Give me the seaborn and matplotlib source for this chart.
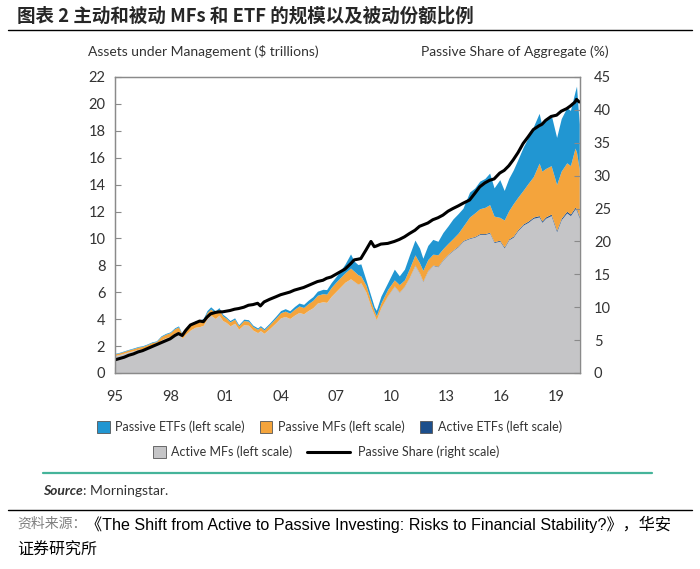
import matplotlib
matplotlib.use("Agg")
import matplotlib.pyplot as plt
import matplotlib.patches as mpatches
from matplotlib.lines import Line2D
import seaborn as sns

# values (decimal years, $ trillions and %)
years = [1995.00, 1995.25, 1995.50, 1995.75, 1996.00, 1996.25, 1996.50, 1996.75,
         1997.00, 1997.25, 1997.50, 1997.75, 1998.00, 1998.25, 1998.45, 1998.65,
         1998.85, 1999.10, 1999.35, 1999.60, 1999.80, 2000.00, 2000.20, 2000.45,
         2000.65, 2000.85, 2001.05, 2001.25, 2001.50, 2001.72, 2002.00, 2002.25,
         2002.50, 2002.75, 2002.90, 2003.10, 2003.40, 2003.75, 2004.00, 2004.25,
         2004.50, 2004.75, 2005.00, 2005.25, 2005.50, 2005.75, 2006.00, 2006.30,
         2006.50, 2006.75, 2007.00, 2007.25, 2007.50, 2007.80, 2008.00, 2008.20,
         2008.36, 2008.64, 2008.91, 2009.09, 2009.20, 2009.45, 2009.82, 2010.18,
         2010.45, 2010.73, 2011.00, 2011.30, 2011.55, 2011.73, 2012.00, 2012.27,
         2012.55, 2012.82, 2013.10, 2013.36, 2013.65, 2013.91, 2014.27, 2014.55,
         2014.82, 2015.10, 2015.36, 2015.60, 2015.91, 2016.15, 2016.40, 2016.64,
         2016.90, 2017.18, 2017.45, 2017.73, 2018.05, 2018.20, 2018.40, 2018.70,
         2019.00, 2019.25, 2019.55, 2019.75, 2020.00, 2020.08, 2020.23]

active_mfs = [1.30, 1.38, 1.48, 1.58, 1.66, 1.76, 1.80, 1.92,
              2.05, 2.12, 2.45, 2.62, 2.72, 2.98, 3.08, 2.58,
              2.90, 3.20, 3.40, 3.45, 3.55, 4.05, 4.30, 4.05,
              4.30, 3.90, 3.75, 3.50, 3.70, 3.25, 3.60, 3.55,
              3.18, 3.00, 3.15, 2.95, 3.30, 3.75, 4.10, 4.20,
              4.05, 4.30, 4.50, 4.40, 4.65, 4.85, 5.20, 5.30,
              5.25, 5.70, 6.05, 6.40, 6.75, 7.00, 6.80, 6.60,
              6.70, 6.00, 4.90, 4.30, 3.95, 4.85, 5.75, 6.45,
              6.00, 6.45, 7.10, 8.00, 7.40, 6.80, 7.60, 8.00,
              7.90, 8.40, 8.80, 9.10, 9.40, 9.80, 10.00, 10.10,
              10.30, 10.30, 10.40, 9.70, 9.80, 9.30, 9.90, 10.10,
              10.60, 11.00, 11.20, 11.50, 11.60, 11.20, 11.50, 11.70,
              10.50, 11.40, 11.90, 11.70, 12.20, 12.10, 11.50]

active_etfs = [0] * 54 + [0.01, 0.01, 0.01, 0.01, 0.01, 0.01, 0.01, 0.01,
                          0.02, 0.02, 0.02, 0.02, 0.02, 0.03, 0.03, 0.03,
                          0.03, 0.03, 0.04, 0.04, 0.04, 0.04, 0.05, 0.05,
                          0.05, 0.05, 0.06, 0.06, 0.06, 0.06, 0.07, 0.07,
                          0.07, 0.08, 0.08, 0.08, 0.09, 0.09, 0.10, 0.10,
                          0.10, 0.11, 0.11, 0.11, 0.12, 0.12, 0.12, 0.12, 0.12]

passive_mfs = [0.12, 0.12, 0.13, 0.14, 0.15, 0.16, 0.18, 0.19,
               0.21, 0.22, 0.25, 0.26, 0.28, 0.32, 0.34, 0.26,
               0.30, 0.35, 0.38, 0.40, 0.41, 0.45, 0.46, 0.43,
               0.42, 0.35, 0.31, 0.30, 0.30, 0.25, 0.30, 0.30,
               0.27, 0.25, 0.27, 0.25, 0.30, 0.35, 0.38, 0.40,
               0.40, 0.44, 0.48, 0.47, 0.51, 0.55, 0.58, 0.60,
               0.61, 0.66, 0.70, 0.70, 0.70, 0.80, 0.75, 0.70,
               0.50, 0.50, 0.40, 0.30, 0.30, 0.35, 0.45, 0.45,
               0.55, 0.45, 0.65, 0.75, 0.75, 0.80, 0.80, 0.80,
               0.85, 0.80, 0.80, 0.85, 0.95, 1.05, 1.55, 1.75,
               1.85, 1.95, 2.05, 1.90, 1.70, 2.00, 2.10, 2.40,
               2.40, 2.50, 2.80, 3.00, 3.90, 3.70, 3.60, 3.60,
               3.40, 3.50, 3.60, 3.60, 4.40, 4.20, 3.50]

passive_etfs = [0.04, 0.04, 0.04, 0.04, 0.05, 0.05, 0.05, 0.05,
                0.05, 0.05, 0.06, 0.06, 0.06, 0.07, 0.08, 0.06,
                0.07, 0.08, 0.08, 0.09, 0.10, 0.14, 0.16, 0.14,
                0.14, 0.12, 0.10, 0.10, 0.10, 0.09, 0.10, 0.11,
                0.10, 0.10, 0.10, 0.10, 0.11, 0.14, 0.16, 0.18,
                0.18, 0.20, 0.22, 0.23, 0.25, 0.27, 0.30, 0.32,
                0.34, 0.36, 0.40, 0.50, 0.65, 1.05, 0.75, 0.75,
                0.90, 0.40, 0.40, 0.30, 0.40, 0.50, 0.50, 0.80,
                0.65, 0.80, 1.00, 1.10, 1.10, 0.90, 1.05, 1.10,
                1.00, 1.20, 1.30, 1.45, 1.45, 1.35, 1.85, 1.85,
                2.05, 2.15, 2.35, 2.10, 2.80, 2.20, 2.40, 2.50,
                2.80, 3.20, 3.40, 3.70, 3.70, 3.40, 3.70, 3.80,
                3.50, 3.90, 4.10, 4.10, 4.20, 4.90, 3.40]

passive_share = [2.0, 2.2, 2.4, 2.7, 2.9, 3.2, 3.4, 3.7,
                 4.0, 4.3, 4.6, 4.9, 5.2, 5.7, 6.0, 5.7,
                 6.5, 7.3, 7.6, 7.9, 7.8, 8.5, 9.0, 9.2,
                 9.3, 9.3, 9.4, 9.5, 9.7, 9.8, 10.0, 10.3,
                 10.4, 10.6, 10.2, 10.8, 11.2, 11.6, 11.9, 12.1,
                 12.3, 12.6, 12.8, 13.0, 13.3, 13.6, 13.9, 14.1,
                 14.4, 14.6, 15.0, 15.4, 15.8, 16.6, 17.2, 17.3,
                 17.4, 18.7, 20.0, 19.2, 19.3, 19.6, 19.7, 20.0,
                 20.3, 20.7, 21.2, 21.7, 22.3, 22.5, 22.8, 23.3,
                 23.6, 24.0, 24.6, 25.0, 25.4, 25.8, 26.3, 27.3,
                 28.3, 28.9, 29.3, 29.5, 30.4, 30.8, 31.5, 32.4,
                 33.5, 34.9, 35.9, 37.0, 37.6, 37.8, 38.4, 39.0,
                 39.2, 39.8, 40.2, 40.6, 41.2, 41.6, 41.2]

year_ticks = [1995, 1998, 2001, 2004, 2007, 2010, 2013, 2016, 2019]
year_labels = ["95", "98", "01", "04", "07", "10", "13", "16", "19"]

series_names = ["Active MFs (left scale)", "Active ETFs (left scale)",
                "Passive MFs (left scale)", "Passive ETFs (left scale)"]
colors = ["#c5c5c7", "#1c4f8c", "#f4a43c", "#2196d2"]

sns.set_theme(style="white")
plt.rcParams["font.family"] = ["Lato", "Noto Sans CJK SC", "DejaVu Sans"]

W, H = 700, 569
fig = plt.figure(figsize=(7, 5.69), dpi=100)
ax = fig.add_axes([115 / W, 1 - 373 / H, 465 / W, 296 / H])

ax.stackplot(years, active_mfs, active_etfs, passive_mfs, passive_etfs,
             colors=colors, linewidth=0)
ax2 = ax.twinx()
sns.lineplot(x=years, y=passive_share, ax=ax2, color="black", linewidth=2.2)

ax.set_xlim(1995, 2020.27)
ax.set_ylim(0, 22)
ax.set_yticks(range(0, 23, 2))
ax.set_xticks(year_ticks)
ax.set_xticklabels(year_labels)
ax2.set_ylim(0, 45)
ax2.set_yticks(range(0, 46, 5))
ax2.set_ylabel("")

for a in (ax, ax2):
    for s in a.spines.values():
        s.set_color("#8a8a8a")
        s.set_linewidth(0.9)
    a.tick_params(direction="in", length=4, width=0.8, color="#8a8a8a",
                  labelsize=10.5, labelcolor="#333333", pad=7)
ax.tick_params(axis="y", left=True, right=False)
ax.tick_params(axis="x", bottom=True, pad=12)
ax2.tick_params(axis="y", right=True, left=False, pad=10)

fig.text(88 / W, 1 - 52 / H, "Assets under Management ($ trillions)",
         fontsize=10, color="#333333", va="center", ha="left")
fig.text(609 / W, 1 - 52 / H, "Passive Share of Aggregate (%)",
         fontsize=10, color="#333333", va="center", ha="right")

# title and rules
fig.text(17 / W, 1 - 16 / H, "图表 2 主动和被动 MFs 和 ETF 的规模以及被动份额比例",
         fontsize=13.3, fontweight="bold", va="center", ha="left",
         family=["Noto Sans CJK SC", "DejaVu Sans"])
fig.add_artist(Line2D([8 / W, 692 / W], [1 - 30 / H] * 2, color="black", lw=1))

# legend
def patch(c):
    return mpatches.Patch(facecolor=c, edgecolor="#555555", linewidth=0.6)

kw = dict(frameon=False, fontsize=9, borderpad=0, borderaxespad=0,
          handletextpad=0.45, labelcolor="#333333", loc="center left")
row1 = [patch(colors[3]), patch(colors[2]), patch(colors[1])]
fig.legend(row1, [series_names[3], series_names[2], series_names[1]], ncol=3,
           bbox_to_anchor=(97 / W, 1 - 427 / H), handlelength=1.0,
           handleheight=1.0, columnspacing=1.2, **kw)
fig.legend([patch(colors[0])], [series_names[0]],
           bbox_to_anchor=(153 / W, 1 - 452 / H), handlelength=1.0,
           handleheight=1.0, **kw)
fig.legend([Line2D([], [], color="black", lw=2.2)], ["Passive Share (right scale)"],
           bbox_to_anchor=(307 / W, 1 - 452 / H), handlelength=3.4,
           **{**kw, "handletextpad": 0.7})

fig.add_artist(Line2D([43 / W, 652 / W], [1 - 473 / H] * 2, color="#45b49a", lw=1.6))

renderer = fig.canvas.get_renderer()


def text_after(prev, s, **kwargs):
    # place a text directly after the end of the previous one
    bb = prev.get_window_extent(renderer)
    return fig.text(bb.x1 / fig.bbox.width, prev.get_position()[1], s, **kwargs)


src = fig.text(43 / W, 1 - 491 / H, "Source", fontsize=10, fontstyle="italic",
               fontweight="bold", color="#333333", va="center")
text_after(src, ": Morningstar.", fontsize=10, color="#333333", va="center")
fig.add_artist(Line2D([8 / W, 692 / W], [1 - 510 / H] * 2, color="black", lw=1))

lab = fig.text(17 / W, 1 - 524 / H, "资料来源：", fontsize=10, color="#808080",
               va="center", family=["Noto Sans CJK SC"])
text_after(lab, "《The Shift from Active to Passive Investing: Risks to Financial Stability?》，华安",
           fontsize=11.6, color="black", va="center",
           family=["Liberation Sans Narrow", "Liberation Sans", "Noto Sans CJK SC"])
fig.text(17 / W, 1 - 550 / H, "证券研究所", fontsize=11.5, color="black",
         va="center", family=["Noto Sans CJK SC"])

fig.savefig("out.png", dpi=100)
